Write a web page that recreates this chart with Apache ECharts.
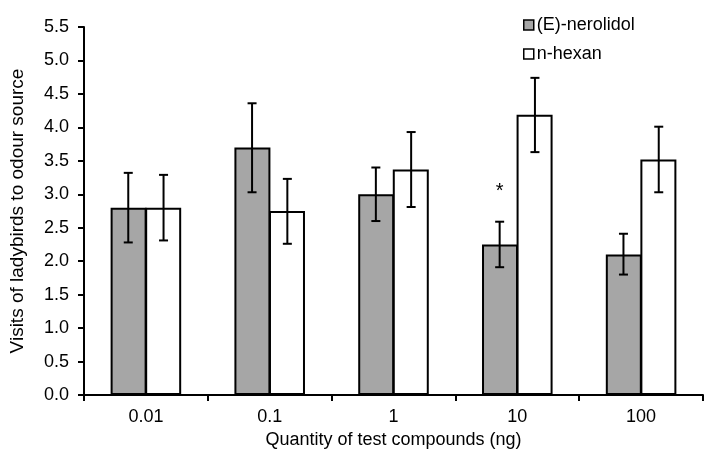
<!DOCTYPE html>
<html>
<head>
<meta charset="utf-8">
<script src="https://cdn.jsdelivr.net/npm/echarts@6/dist/echarts.min.js"></script>
<style>
  html, body { margin: 0; padding: 0; background: #fff; }
  #chart { width: 718px; height: 464px; }
</style>
</head>
<body>
<div id="chart"></div>
<script>
const categories = ["0.01", "0.1", "1", "10", "100"];
const nerolidol = [2.8, 3.7, 3.0, 2.25, 2.1];
const nerolidolErr = [[2.28, 3.32], [3.03, 4.36], [2.6, 3.4], [1.91, 2.59], [1.8, 2.41]];
const hexan = [2.8, 2.75, 3.37, 4.19, 3.52];
const hexanErr = [[2.31, 3.29], [2.26, 3.23], [2.81, 3.93], [3.63, 4.74], [3.03, 4.01]];
const marks = ["", "", "", "*", ""];

const font = "Liberation Sans, Arial, sans-serif";
const barShare = 0.285; // each bar's width as part of a category

function errorSeries(name, errs, side, labels) {
  return {
    name: name,
    type: "custom",
    z: 5,
    silent: true,
    data: errs.map((e, i) => [i, e[0], e[1], labels ? labels[i] : ""]),
    renderItem: (params, api) => {
      const cat = api.value(0);
      const lo = api.coord([cat, api.value(1)]);
      const hi = api.coord([cat, api.value(2)]);
      const bw = api.size([1, 0])[0] * barShare;
      const x = lo[0] + side * bw / 2;
      const cap = 4.5;
      const style = { stroke: "#000", lineWidth: 2 };
      const children = [
        { type: "line", shape: { x1: x, y1: lo[1], x2: x, y2: hi[1] }, style },
        { type: "line", shape: { x1: x - cap, y1: hi[1], x2: x + cap, y2: hi[1] }, style },
        { type: "line", shape: { x1: x - cap, y1: lo[1], x2: x + cap, y2: lo[1] }, style },
      ];
      const mark = api.value(3);
      if (mark) {
        children.push({
          type: "text",
          style: {
            text: mark, x: x, y: hi[1] - 30, align: "center", verticalAlign: "middle",
            font: "20px " + font, fill: "#000",
          },
        });
      }
      return { type: "group", children };
    },
  };
}

const chart = echarts.init(document.getElementById("chart"));
chart.setOption({
  animation: false,
  textStyle: { fontFamily: font, color: "#000" },
  grid: { left: 79, right: 15, top: 27, bottom: 69 },
  legend: {
    orient: "vertical",
    left: 518,
    top: 11,
    icon: "rect",
    itemWidth: 10,
    itemHeight: 10,
    itemGap: 11,
    itemStyle: { borderColor: "#000", borderWidth: 1.5 },
    data: ["(E)-nerolidol", "n-hexan"],
    textStyle: { fontSize: 18, color: "#000", fontFamily: font, padding: [0, 0, 0, -2] },
  },
  xAxis: {
    type: "category",
    data: categories,
    name: "Quantity of test compounds (ng)",
    nameLocation: "middle",
    nameGap: 36,
    nameTextStyle: { fontSize: 18, color: "#000" },
    axisLine: { lineStyle: { color: "#000", width: 2 } },
    axisTick: { show: true, length: 6, lineStyle: { color: "#000", width: 2 } },
    axisLabel: { fontSize: 18, color: "#000", margin: 13 },
  },
  yAxis: {
    type: "value",
    min: 0,
    max: 5.5,
    interval: 0.5,
    name: "Visits of ladybirds to odour source",
    nameLocation: "middle",
    nameGap: 57,
    nameTextStyle: { fontSize: 19, color: "#000" },
    axisLine: { show: true, lineStyle: { color: "#000", width: 2 } },
    axisTick: { show: true, length: 6, lineStyle: { color: "#000", width: 2 } },
    axisLabel: { fontSize: 18, color: "#000", margin: 15, formatter: (v) => v.toFixed(1) },
    splitLine: { show: false },
  },
  series: [
    {
      name: "(E)-nerolidol",
      type: "bar",
      data: nerolidol,
      barGap: "-4%",
      barCategoryGap: "43%",
      itemStyle: { color: "#a6a6a6", borderColor: "#000", borderWidth: 2 },
    },
    {
      name: "n-hexan",
      type: "bar",
      data: hexan,
      barGap: "-4%",
      barCategoryGap: "43%",
      itemStyle: { color: "#fff", borderColor: "#000", borderWidth: 2 },
    },
    errorSeries("nerolidolErr", nerolidolErr, -1, marks),
    errorSeries("hexanErr", hexanErr, 1, null),
  ],
});
window.addEventListener("resize", () => chart.resize());
</script>
</body>
</html>
